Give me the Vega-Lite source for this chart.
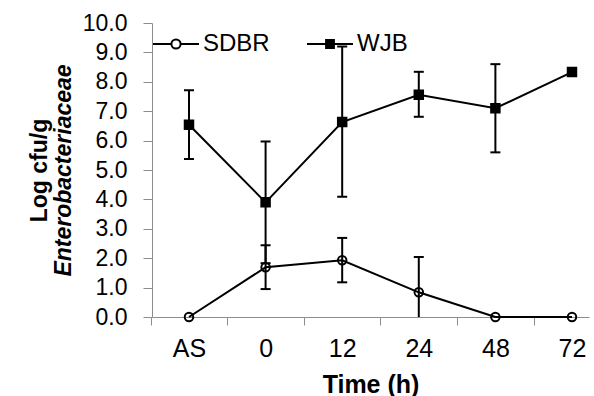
{
  "$schema": "https://vega.github.io/schema/vega-lite/v6.json",
  "width": 437,
  "height": 294,
  "autosize": {"type": "none"},
  "padding": {"left": 152, "top": 23, "right": 5, "bottom": 79},
  "config": {
    "font": "Liberation Sans",
    "view": {"stroke": null},
    "axis": {"grid": false, "domainColor": "#8c8c8c", "tickColor": "#8c8c8c", "labelColor": "#000", "titleColor": "#000", "labelFont": "Liberation Sans", "titleFont": "Liberation Sans"},
    "legend": {"orient": "none", "legendX": 0, "legendY": -3, "direction": "horizontal", "title": null, "symbolSize": 2116, "symbolStrokeWidth": 2, "symbolOpacity": 1, "labelFontSize": 24, "labelOffset": 3, "columnPadding": 33, "padding": 0, "labelColor": "black", "labelFont": "Liberation Sans"}
  },
  "data": {
    "values": [
      {"t": "AS", "series": "SDBR", "v": 0, "lo": null, "hi": null},
      {"t": "0", "series": "SDBR", "v": 1.69, "lo": 0.95, "hi": 2.44},
      {"t": "12", "series": "SDBR", "v": 1.93, "lo": 1.18, "hi": 2.69},
      {"t": "24", "series": "SDBR", "v": 0.84, "lo": -0.36, "hi": 2.04},
      {"t": "48", "series": "SDBR", "v": 0, "lo": null, "hi": null},
      {"t": "72", "series": "SDBR", "v": 0, "lo": null, "hi": null},
      {"t": "AS", "series": "WJB", "v": 6.54, "lo": 5.37, "hi": 7.71},
      {"t": "0", "series": "WJB", "v": 3.9, "lo": 1.83, "hi": 5.97},
      {"t": "12", "series": "WJB", "v": 6.63, "lo": 4.09, "hi": 9.2},
      {"t": "24", "series": "WJB", "v": 7.56, "lo": 6.81, "hi": 8.34},
      {"t": "48", "series": "WJB", "v": 7.1, "lo": 5.6, "hi": 8.6},
      {"t": "72", "series": "WJB", "v": 8.33, "lo": null, "hi": null}
    ]
  },
  "layer": [
    {
      "mark": {"type": "line", "stroke": "black", "strokeWidth": 2},
      "encoding": {
        "x": {
          "field": "t", "type": "ordinal", "sort": ["AS", "0", "12", "24", "48", "72"],
          "scale": {"type": "point", "padding": 0.3525, "align": 0.685},
          "axis": {"title": "Time (h)", "labelAngle": 0, "labelFontSize": 25, "titleFontSize": 25, "titleFontWeight": "bold", "tickSize": 8, "tickOffset": -38.3, "labelOffset": 38.3, "labelPadding": 11, "titlePadding": 11, "domainWidth": 1}
        },
        "y": {
          "field": "v", "type": "quantitative", "scale": {"domain": [0, 10]},
          "axis": {"values": [0, 1, 2, 3, 4, 5, 6, 7, 8, 9, 10], "format": ".1f", "labelFontSize": 23, "tickSize": 9, "labelPadding": 16, "title": "Enterobacteriaceae", "titleFontStyle": "italic", "titleFontWeight": "bold", "titleFontSize": 23, "titlePadding": 7, "orient": "left"}
        },
        "detail": {"field": "series"}
      }
    },
    {
      "mark": {"type": "rule", "stroke": "black", "strokeWidth": 2, "clip": true},
      "encoding": {
        "x": {"field": "t", "type": "ordinal", "sort": ["AS", "0", "12", "24", "48", "72"]},
        "y": {"field": "lo", "type": "quantitative", "axis": null},
        "y2": {"field": "hi"}
      }
    },
    {
      "mark": {"type": "tick", "size": 10, "thickness": 2, "color": "black", "opacity": 1, "clip": true},
      "encoding": {
        "x": {"field": "t", "type": "ordinal", "sort": ["AS", "0", "12", "24", "48", "72"]},
        "y": {"field": "hi", "type": "quantitative", "axis": null}
      }
    },
    {
      "mark": {"type": "tick", "size": 10, "thickness": 2, "color": "black", "opacity": 1, "clip": true},
      "encoding": {
        "x": {"field": "t", "type": "ordinal", "sort": ["AS", "0", "12", "24", "48", "72"]},
        "y": {"field": "lo", "type": "quantitative", "axis": null}
      }
    },
    {
      "mark": {"type": "point", "filled": true, "stroke": "black", "strokeWidth": 2, "size": 72, "opacity": 1},
      "encoding": {
        "x": {"field": "t", "type": "ordinal", "sort": ["AS", "0", "12", "24", "48", "72"]},
        "y": {
          "field": "v", "type": "quantitative",
          "axis": {"title": "Log cfu/g", "labels": false, "ticks": false, "domain": false, "orient": "left", "titleFontSize": 23, "titleFontWeight": "bold", "titlePadding": 101}
        },
        "shape": {
          "field": "series", "type": "nominal",
          "scale": {"domain": ["SDBR", "WJB"], "range": ["circle", "square"]},
          "legend": null
        },
        "fill": {
          "field": "series", "type": "nominal",
          "scale": {"domain": ["SDBR", "WJB"], "range": ["transparent", "black"]},
          "legend": null
        }
      }
    },
    {
      "transform": [{"filter": "false"}],
      "mark": {"type": "point", "filled": true, "strokeWidth": 2, "size": 2116, "opacity": 1},
      "encoding": {
        "x": {"field": "t", "type": "ordinal", "sort": ["AS", "0", "12", "24", "48", "72"]},
        "y": {"field": "v", "type": "quantitative", "axis": null},
        "shape": {
          "field": "series", "type": "nominal",
          "scale": {"domain": ["SDBR", "WJB"], "range": ["M-1,0H-0.2M0.2,0H1M-0.2,0A0.2,0.2,0,1,0,0.2,0A0.2,0.2,0,1,0,-0.2,0", "M-1,0H1M-0.17,-0.17H0.17V0.17H-0.17Z"]},
          "legend": {}
        },
        "fill": {
          "field": "series", "type": "nominal",
          "scale": {"domain": ["SDBR", "WJB"], "range": ["white", "black"]},
          "legend": {}
        },
        "stroke": {
          "field": "series", "type": "nominal",
          "scale": {"domain": ["SDBR", "WJB"], "range": ["black", "black"]},
          "legend": {}
        }
      }
    }
  ],
  "resolve": {"axis": {"y": "independent"}, "scale": {"shape": "independent", "fill": "independent", "stroke": "independent"}}
}
